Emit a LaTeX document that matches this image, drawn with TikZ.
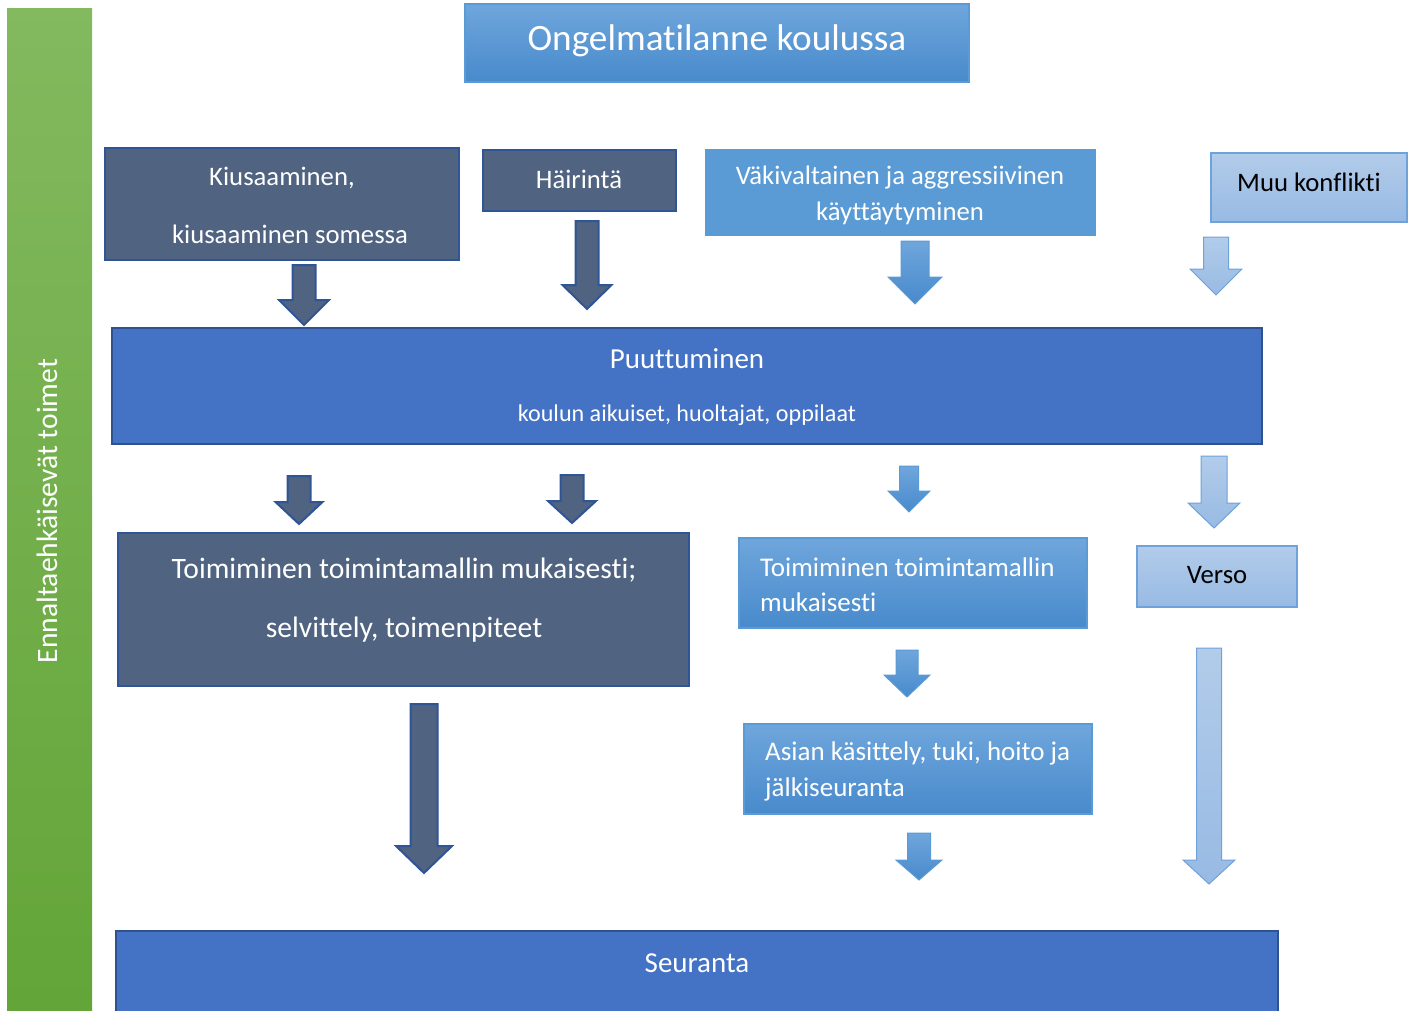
\documentclass[tikz,border=0pt]{standalone}
\usepackage{fontspec}
\setmainfont{Carlito}[Ligatures=NoCommon]
\definecolor{darkfill}{HTML}{506380}
\definecolor{darkline}{HTML}{2F5597}
\definecolor{puufill}{HTML}{4472C4}
\definecolor{puuline}{HTML}{2F528F}
\definecolor{medtop}{HTML}{6FA6DC}
\definecolor{medbot}{HTML}{488ACC}
\definecolor{medflat}{HTML}{5B9BD5}
\definecolor{lighttop}{HTML}{B2CCEA}
\definecolor{lightbot}{HTML}{98BAE3}
\definecolor{lightline}{HTML}{6FA1DA}
\definecolor{greentop}{HTML}{83B95F}
\definecolor{greenbot}{HTML}{63A538}
\tikzset{
  darkbox/.style={draw=darkline,line width=2pt,fill=darkfill},
  puubox/.style={draw=puuline,line width=2pt,fill=puufill},
  medbox/.style={draw=medflat,line width=1.2pt,top color=medtop,bottom color=medbot},
  flatbox/.style={draw=medflat,line width=1.2pt,fill=medflat},
  lightbox/.style={draw=lightline,line width=1.2pt,top color=lighttop,bottom color=lightbot},
  wtxt/.style={text=white,inner sep=0pt},
  btxt/.style={text=black,inner sep=0pt},
  fs/.style={font=\fontsize{26.7}{30}\selectfont},
  darkarrow/.style={draw=darkline,line width=2pt,fill=darkfill,line join=miter},
  medarrow/.style={draw=medflat,line width=1pt,top color=medtop,bottom color=medbot},
  lightarrow/.style={draw=lightline,line width=1pt,top color=lighttop,bottom color=lightbot},
}
% #1 style, #2 cx, #3 ytop, #4 yneck, #5 ytip, #6 half shaft, #7 half head
\newcommand\barrow[7]{%
  \path[#1] ({#2-#6},#3) -- ({#2+#6},#3) -- ({#2+#6},#4) -- ({#2+#7},#4) -- (#2,#5)
    -- ({#2-#7},#4) -- ({#2-#6},#4) -- cycle;}
\begin{document}
\begin{tikzpicture}[x=1pt,y=-1pt]
\useasboundingbox (0,0) rectangle (1415,1011);
% green side bar
\path[top color=greentop,bottom color=greenbot] (7,9) rectangle (92,1012);
\node[wtxt,rotate=90,font=\fontsize{29.6}{34}\selectfont] (side) at (47,511) {Ennaltaehkäisevät toimet};
% title
\path[medbox] (465,4) rectangle (969,82);
\node[wtxt,font=\fontsize{37.2}{42}\selectfont] (title) at (717,41) {Ongelmatilanne koulussa};
% top row
\path[darkbox] (105,148) rectangle (459,260);
\node[wtxt,fs] (kius1) at (282,178) {Kiusaaminen,};
\node[wtxt,fs] (kius2) at (290,234) {kiusaaminen somessa};
\path[darkbox] (483,150) rectangle (676,211);
\node[wtxt,fs] (hai) at (579,179) {Häirintä};
\path[flatbox] (706,150) rectangle (1095,235);
\node[wtxt,fs] (vak1) at (900,178) {Väkivaltainen ja aggressiivinen};
\node[wtxt,fs] (vak2) at (900,213) {käyttäytyminen};
\path[lightbox] (1211,153) rectangle (1407,222);
\node[btxt,fs] (muu) at (1309,182) {Muu konflikti};
% arrows row 1
\barrow{darkarrow}{304}{265}{300}{325}{11.5}{25}
\barrow{darkarrow}{587}{221}{285}{309}{11.5}{24.5}
\barrow{medarrow}{915}{241}{277}{304}{14}{27}
\barrow{lightarrow}{1216}{237}{269}{295}{12.5}{26}
% Puuttuminen
\path[puubox] (112,328) rectangle (1262,444);
\node[wtxt,font=\fontsize{29}{34}\selectfont] (puu1) at (687,359) {Puuttuminen};
\node[wtxt,font=\fontsize{24.1}{28}\selectfont] (puu2) at (687,415) {koulun aikuiset, huoltajat, oppilaat};
% arrows row 2
\barrow{darkarrow}{299}{476}{502}{524}{11.5}{23.5}
\barrow{darkarrow}{572}{475}{501}{523}{11.5}{24}
\barrow{medarrow}{909}{466}{491}{512}{9.5}{21}
\barrow{lightarrow}{1214}{456}{503}{528}{13}{26}
% second level
\path[darkbox] (118,533) rectangle (689,686);
\node[wtxt,font=\fontsize{29.6}{34}\selectfont] (toi1) at (404,570) {Toimiminen toimintamallin mukaisesti;};
\node[wtxt,font=\fontsize{29.6}{34}\selectfont] (toi2) at (404,630) {selvittely, toimenpiteet};
\path[medbox] (739,538) rectangle (1087,628);
\node[wtxt,anchor=west,font=\fontsize{27}{30}\selectfont] (tm1) at (760,567) {Toimiminen toimintamallin};
\node[wtxt,anchor=west,font=\fontsize{27}{30}\selectfont] (tm2) at (760,602) {mukaisesti};
\path[lightbox] (1137,546) rectangle (1297,607);
\node[btxt,fs] (verso) at (1217,575) {Verso};
% arrows lower
\barrow{darkarrow}{424}{704}{846}{873}{13.5}{28}
\barrow{medarrow}{907}{650}{675}{697}{11}{23}
\barrow{lightarrow}{1209}{648}{860}{884}{12.5}{26}
\path[medbox] (744,724) rectangle (1092,814);
\node[wtxt,anchor=west,font=\fontsize{27}{30}\selectfont] (as1) at (765,753) {Asian käsittely, tuki, hoito ja};
\node[wtxt,anchor=west,font=\fontsize{27}{30}\selectfont] (as2) at (765,789) {jälkiseuranta};
\barrow{medarrow}{919}{833}{860}{880}{11.5}{23}
% Seuranta
\path[puubox] (116,931) rectangle (1278,1020);
\node[wtxt,font=\fontsize{29}{34}\selectfont] (seur) at (697,963) {Seuranta};
\end{tikzpicture}
\end{document}
